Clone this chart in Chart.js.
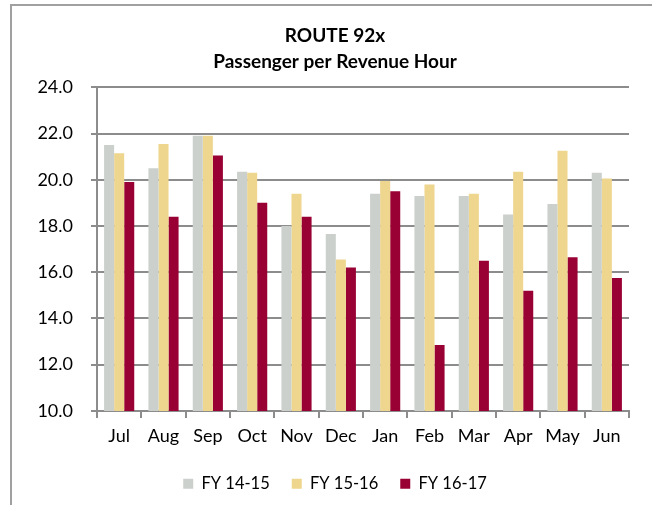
<!DOCTYPE html>
<html>
<head>
<meta charset="utf-8">
<script src="https://cdn.jsdelivr.net/npm/chart.js@4.4.0/dist/chart.umd.min.js"></script>
<style>
    html, body { margin: 0; padding: 0; overflow: hidden; background: #fff; }
    #frame {
        position: absolute; left: 10px; top: 4px;
        width: 700px; height: 600px;
        border: 2px solid #a0a0a0;
    }
    #wrap { position: absolute; left: 10px; top: 0; width: 650px; height: 505px; }
</style>
</head>
<body>
<div id="frame"></div>
<div id="wrap"><canvas id="barChart" width="650" height="505"></canvas></div>
<script>
    // months of the fiscal year
    const months = ['Jul', 'Aug', 'Sep', 'Oct', 'Nov', 'Dec', 'Jan', 'Feb', 'Mar', 'Apr', 'May', 'Jun'];

    // passengers per revenue hour
    const fy1415 = [21.5, 20.5, 21.9, 20.35, 18.0, 17.65, 19.4, 19.3, 19.3, 18.5, 18.95, 20.3];
    const fy1516 = [21.15, 21.55, 21.9, 20.3, 19.4, 16.55, 19.95, 19.8, 19.4, 20.35, 21.25, 20.05];
    const fy1617 = [19.9, 18.4, 21.05, 19.0, 18.4, 16.2, 19.5, 12.85, 16.5, 15.2, 16.65, 15.75];

    const yTicks = [10, 12, 14, 16, 18, 20, 22, 24];

    function renderBarChart() {
        const ctx = document.getElementById('barChart').getContext('2d');
        Chart.defaults.font.family = 'Lato, "Open Sans", sans-serif';
        Chart.defaults.color = '#000';
        new Chart(ctx, {
            type: 'bar',
            data: {
                labels: months,
                datasets: [
                    { label: 'FY 14-15', data: fy1415, backgroundColor: '#cbd0cc' },
                    { label: 'FY 15-16', data: fy1516, backgroundColor: '#eed68e' },
                    { label: 'FY 16-17', data: fy1617, backgroundColor: '#990034' }
                ]
            },
            options: {
                responsive: false,
                animation: false,
                layout: { padding: { left: 0, right: 0, top: 0, bottom: 3 } },
                datasets: {
                    bar: { categoryPercentage: 0.68, barPercentage: 1.0, borderWidth: 0 }
                },
                plugins: {
                    title: {
                        display: true,
                        text: ['ROUTE 92x', 'Passenger per Revenue Hour'],
                        font: { size: 19, weight: 'bold', lineHeight: 1.35 },
                        padding: { top: 23, bottom: 13 }
                    },
                    legend: {
                        position: 'bottom',
                        labels: {
                            boxWidth: 10, boxHeight: 10,
                            font: { size: 16.5 },
                            padding: 22
                        }
                    },
                    tooltip: { enabled: false }
                },
                scales: {
                    x: {
                        grid: {
                            offset: true, drawOnChartArea: false,
                            color: '#8c8c8c', lineWidth: 2, tickLength: 7
                        },
                        border: { color: '#8c8c8c', width: 2 },
                        ticks: { font: { size: 18 }, padding: 7 }
                    },
                    y: {
                        min: 10, max: 24,
                        afterFit: function (scale) { scale.width = 87; },
                        afterBuildTicks: function (scale) {
                            scale.ticks = yTicks.map(function (v) { return { value: v }; });
                        },
                        grid: { color: '#8c8c8c', lineWidth: 2, tickLength: 6 },
                        border: { color: '#8c8c8c', width: 2 },
                        ticks: {
                            font: { size: 18 }, padding: 18,
                            callback: function (v) { return Number(v).toFixed(1); }
                        }
                    },
                    // empty right-hand axis, only keeps the plot clear of the right edge
                    yRight: {
                        position: 'right',
                        afterFit: function (scale) { scale.width = 31; },
                        grid: { display: false },
                        border: { display: false },
                        ticks: { display: false }
                    }
                }
            }
        });
    }

    renderBarChart();
</script>
</body>
</html>
